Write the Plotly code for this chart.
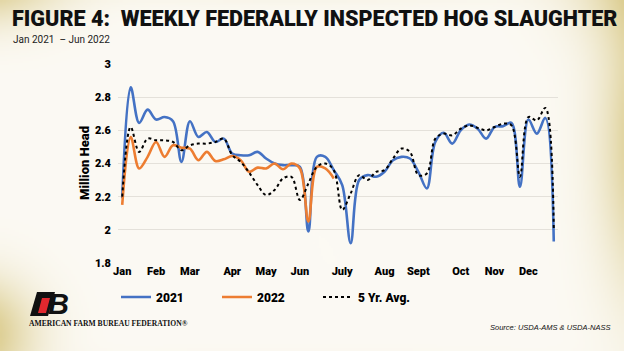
import base64, struct, zlib
import numpy as np
import plotly.graph_objects as go

# ---------------- data ----------------
months = ["Jan", "Feb", "Mar", "Apr", "May", "Jun", "July", "Aug", "Sept", "Oct", "Nov", "Dec"]
month_weeks = [0, 4, 8, 13, 17, 21, 26, 31, 35, 40, 44, 48]

y2021 = [2.19, 2.86, 2.645, 2.725, 2.665, 2.68, 2.655, 2.41, 2.655, 2.56,
         2.59, 2.53, 2.55, 2.46, 2.45, 2.45, 2.47, 2.43, 2.40, 2.39,
         2.39, 2.38, 1.99, 2.44, 2.44, 2.36, 2.27, 1.92, 2.30, 2.33,
         2.32, 2.35, 2.42, 2.44, 2.43, 2.35, 2.25, 2.53, 2.585, 2.52,
         2.60, 2.635, 2.61, 2.55, 2.62, 2.625, 2.645, 2.26, 2.665, 2.58,
         2.675, 1.93]
y2022 = [2.15, 2.56, 2.37, 2.44, 2.53, 2.44, 2.51, 2.495, 2.49, 2.42,
         2.47, 2.415, 2.425, 2.445, 2.42, 2.35, 2.375, 2.37, 2.40, 2.365,
         2.40, 2.37, 2.05, 2.38, 2.37, 2.31]
y5yr = [2.20, 2.62, 2.47, 2.55, 2.54, 2.54, 2.53, 2.48, 2.51, 2.52,
        2.52, 2.53, 2.55, 2.45, 2.41, 2.345, 2.27, 2.21, 2.24, 2.31,
        2.32, 2.18, 2.28, 2.38, 2.40, 2.36, 2.12, 2.22, 2.33, 2.30,
        2.35, 2.36, 2.43, 2.49, 2.47, 2.33, 2.34, 2.55, 2.58, 2.57,
        2.61, 2.63, 2.615, 2.60, 2.62, 2.64, 2.63, 2.32, 2.68, 2.66,
        2.735, 2.01]
y_ticks = [1.8, 2, 2.2, 2.4, 2.6, 2.8, 3]

# ---------------- geometry ----------------
W, H = 624, 351
ML, MR, MT, MB = 118, 66, 64, 88
PW, PH = W - ML - MR, H - MT - MB


def px(x):
    return (x - ML) / PW


def py(y):
    return (H - MB - y) / PH


# ---------------- background (vignette) ----------------
def make_png(arr):
    h, w, _ = arr.shape
    raw = b"".join(b"\x00" + arr[r].tobytes() for r in range(h))

    def chunk(t, d):
        c = struct.pack(">I", len(d)) + t + d
        return c + struct.pack(">I", zlib.crc32(t + d) & 0xFFFFFFFF)

    png = b"\x89PNG\r\n\x1a\n" + chunk(b"IHDR", struct.pack(">IIBBBBB", w, h, 8, 2, 0, 0, 0))
    png += chunk(b"IDAT", zlib.compress(raw, 9)) + chunk(b"IEND", b"")
    return "data:image/png;base64," + base64.b64encode(png).decode()


gw, gh = 312, 176
gx, gy = np.meshgrid(np.linspace(0, W, gw), np.linspace(0, H, gh))
wv = np.zeros_like(gx)
for cx, cy, sx, sy, a in [(665, 140, 55, 150, 1.0), (-25, -25, 80, 45, 0.8),
                          (-30, 335, 60, 55, 0.85), (300, -35, 260, 25, 0.5),
                          (660, -20, 80, 60, 0.6), (300, 385, 260, 20, 0.35)]:
    wv += a * np.exp(-(((gx - cx) / sx) ** 2 + ((gy - cy) / sy) ** 2))
wv = np.clip(wv, 0, 0.95)
cream = np.array([252, 250, 244.0])
gold = np.array([208, 188, 105.0])
img = (cream[None, None, :] * (1 - wv[..., None]) + gold[None, None, :] * wv[..., None]).astype(np.uint8)
bg_src = make_png(img)

# ---------------- figure ----------------
weeks21 = list(range(len(y2021)))
weeks22 = list(range(len(y2022)))
weeks5 = list(range(len(y5yr)))

fig = go.Figure()
fig.add_trace(go.Scatter(x=weeks21, y=y2021, name="2021", mode="lines",
                         line=dict(color="#4472C4", width=2.6, shape="spline", smoothing=1)))
fig.add_trace(go.Scatter(x=weeks22, y=y2022, name="2022", mode="lines",
                         line=dict(color="#ED7D31", width=2.6, shape="spline", smoothing=1)))
fig.add_trace(go.Scatter(x=weeks5, y=y5yr, name="5 Yr. Avg.", mode="lines",
                         line=dict(color="#000000", width=2, dash="dot", shape="spline", smoothing=1)))

tickfont = dict(family="Roboto", size=11, color="#000000", weight=900)

fig.update_layout(
    width=W, height=H,
    margin=dict(l=ML, r=MR, t=MT, b=MB),
    paper_bgcolor="#FBF9F3",
    plot_bgcolor="rgba(0,0,0,0)",
    showlegend=True,
    legend=dict(orientation="h", x=px(116), y=py(297), xanchor="left", yanchor="middle",
                font=dict(family="Roboto", size=12, color="#000000", weight=900),
                bgcolor="rgba(0,0,0,0)", itemwidth=30, entrywidth=56, entrywidthmode="pixels",
                tracegroupgap=0),
    xaxis=dict(range=[-0.5, 51.5], tickmode="array", tickvals=month_weeks, ticktext=months,
               showgrid=False, zeroline=False, showline=False, ticks="", tickfont=tickfont,
               fixedrange=True),
    yaxis=dict(range=[1.8, 3.0], tickmode="array", tickvals=y_ticks,
               ticktext=["1.8", "2", "2.2", "2.4", "2.6", "2.8", "3"],
               showgrid=True, gridcolor="#E4E1DA", gridwidth=1, zeroline=False,
               showline=False, ticks="", ticklabelstandoff=6, tickfont=tickfont, fixedrange=True),
    images=[dict(source=bg_src, xref="paper", yref="paper", x=px(0), y=py(0),
                 sizex=W / PW, sizey=H / PH, sizing="stretch", layer="below",
                 xanchor="left", yanchor="top")],
)


def note(text, x, y, xanchor="left", **font):
    return dict(text=text, xref="paper", yref="paper", x=px(x), y=py(y), xanchor=xanchor,
                yanchor="middle", showarrow=False, font=font)


ann = [
    note("FIGURE 4:  WEEKLY FEDERALLY INSPECTED HOG SLAUGHTER", 10, 18,
         family="Roboto", size=21.6, color="#111111", weight=900),
    note("Jan 2021  – Jun 2022", 11, 40, family="Roboto", size=10, color="#222222"),
    note("AMERICAN FARM BUREAU FEDERATION®", 27, 323,
         family="Liberation Serif", size=7.6, color="#111111", weight="bold"),
    note("<i>Source: USDA-AMS & USDA-NASS</i>", 612, 327, xanchor="right",
         family="Liberation Sans", size=7.5, color="#111111"),
    note("<b><i>B</i></b>", 46, 304, family="Liberation Sans", size=29, color="#111111"),
]
ytitle = note("Million Head", 84, 163, xanchor="center", family="Roboto", size=13,
              color="#000000", weight=900)
ytitle["textangle"] = -90
ann.append(ytitle)
fig.update_layout(annotations=ann)


# logo mark: black slanted block with red parallelogram
def P(x, y):
    return f"{px(x):.5f},{py(y):.5f}"


fig.add_shape(type="path", xref="paper", yref="paper", layer="above", line=dict(width=0),
              fillcolor="#111111",
              path=f"M{P(30,316)} L{P(37,292)} L{P(55,292)} L{P(48,316)} Z")
fig.add_shape(type="path", xref="paper", yref="paper", layer="above", line=dict(width=0),
              fillcolor="#E0282E",
              path=f"M{P(38,313)} L{P(42,298)} L{P(50,298)} L{P(46,313)} Z")

fig.write_html("out.html")
